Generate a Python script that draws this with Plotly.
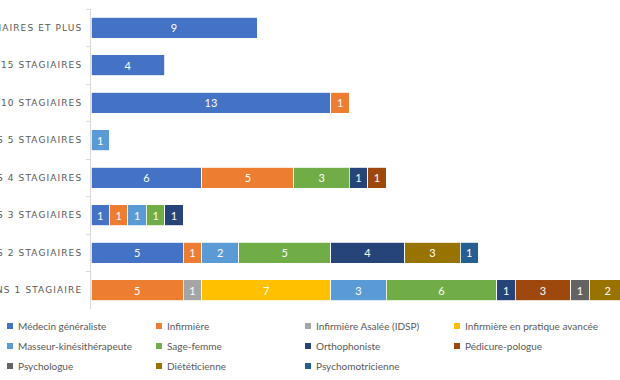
import plotly.graph_objects as go

# Categories (top to bottom); labels are partly cut off by the left edge, as in the reference
categories = [
    "DE 16 STAGIAIRES ET PLUS",
    "DE 11 À \u00a015 STAGIAIRES",
    "DE 6 À \u00a010 STAGIAIRES",
    "ACCUEILLIS 5 STAGIAIRES",
    "ACCUEILLIS 4 STAGIAIRES",
    "ACCUEILLIS 3 STAGIAIRES",
    "ACCUEILLIS 2 STAGIAIRES",
    "AU MOINS 1 STAGIAIRE",
]

series_names = [
    "Médecin généraliste",
    "Infirmière",
    "Infirmière Asalée (IDSP)",
    "Infirmière en pratique avancée",
    "Masseur-kinésithérapeute",
    "Sage-femme",
    "Orthophoniste",
    "Pédicure-pologue",
    "Psychologue",
    "Diététicienne",
    "Psychomotricienne",
]

series_colors = [
    "#4472C4", "#ED7D31", "#A5A5A5", "#FFC000", "#5B9BD5", "#70AD47",
    "#264478", "#9E480E", "#636363", "#997300", "#255E91",
]

# values per series, aligned with categories (0 = absent)
medecin = [9, 4, 13, 0, 6, 1, 5, 0]
infirmiere = [0, 0, 1, 0, 5, 1, 1, 5]
asalee = [0, 0, 0, 0, 0, 0, 0, 1]
ipa = [0, 0, 0, 0, 0, 0, 0, 7]
masseur = [0, 0, 0, 1, 0, 1, 2, 3]
sage_femme = [0, 0, 0, 0, 3, 1, 5, 6]
orthophoniste = [0, 0, 0, 0, 1, 1, 4, 1]
pedicure = [0, 0, 0, 0, 1, 0, 0, 3]
psychologue = [0, 0, 0, 0, 0, 0, 0, 1]
dieteticienne = [0, 0, 0, 0, 0, 0, 3, 2]
psychomot = [0, 0, 0, 0, 0, 0, 1, 0]

series_values = [medecin, infirmiere, asalee, ipa, masseur, sage_femme,
                 orthophoniste, pedicure, psychologue, dieteticienne, psychomot]

fig = go.Figure()
for name, color, vals in zip(series_names, series_colors, series_values):
    xs = [v if v else None for v in vals]
    fig.add_trace(go.Bar(
        y=categories, x=xs, name=name, orientation="h",
        marker=dict(color=color, line=dict(color="white", width=0.8)),
        text=[str(v) if v else "" for v in vals],
        textposition="inside", insidetextanchor="middle", textangle=0,
        constraintext="none",
        textfont=dict(family="Lato", size=11, color="white"),
        cliponaxis=True,
    ))

# Layout geometry (pixels)
L, R, T, B = 91, 0, 9, 71
W = 620 - L - R
H = 380 - T - B
px_per_unit = 18.45

fig.update_layout(
    width=620, height=380,
    margin=dict(l=L, r=R, t=T, b=B, autoexpand=False),
    barmode="stack", bargap=0.45,
    plot_bgcolor="white", paper_bgcolor="white",
    showlegend=False,
    font=dict(family="Lato", color="#595959"),
    xaxis=dict(range=[0, W / px_per_unit], visible=False, showgrid=False, zeroline=False),
    yaxis=dict(
        categoryorder="array", categoryarray=categories, autorange="reversed",
        showline=True, linecolor="#D9D9D9", linewidth=1,
        ticks="outside", tickson="boundaries", ticklen=4, tickcolor="#D9D9D9",
        ticklabelstandoff=6,
        showgrid=False, automargin=False,
        tickfont=dict(family="DejaVu Sans", size=9, color="#595959"),
    ),
)

# Legend drawn as swatches + labels (Excel-style compact legend)
col_text_x = [16, 165, 314, 463]
row_y = [326, 346, 366]
shapes = []
annotations = []
for i, (name, color) in enumerate(zip(series_names, series_colors)):
    r, c = divmod(i, 4)
    tx = col_text_x[c]
    ty = row_y[r]
    shapes.append(dict(
        type="rect", xref="paper", yref="paper",
        x0=(tx - 9 - L) / W, x1=(tx - 3 - L) / W,
        y0=(T + H - (ty + 3)) / H, y1=(T + H - (ty - 3)) / H,
        fillcolor=color, line=dict(width=0),
    ))
    annotations.append(dict(
        xref="paper", yref="paper", x=(tx - L) / W, y=(T + H - ty) / H,
        xanchor="left", yanchor="middle", showarrow=False,
        text=name, font=dict(family="Lato", size=10, color="#595959"),
    ))
fig.update_layout(shapes=shapes, annotations=annotations)

post = """
document.body.style.margin = '0';
document.querySelectorAll('.ytick text').forEach(function(t){ t.style.letterSpacing = '1.1px'; });
"""
fig.write_html("out.html", post_script=post, config={"displayModeBar": False})
